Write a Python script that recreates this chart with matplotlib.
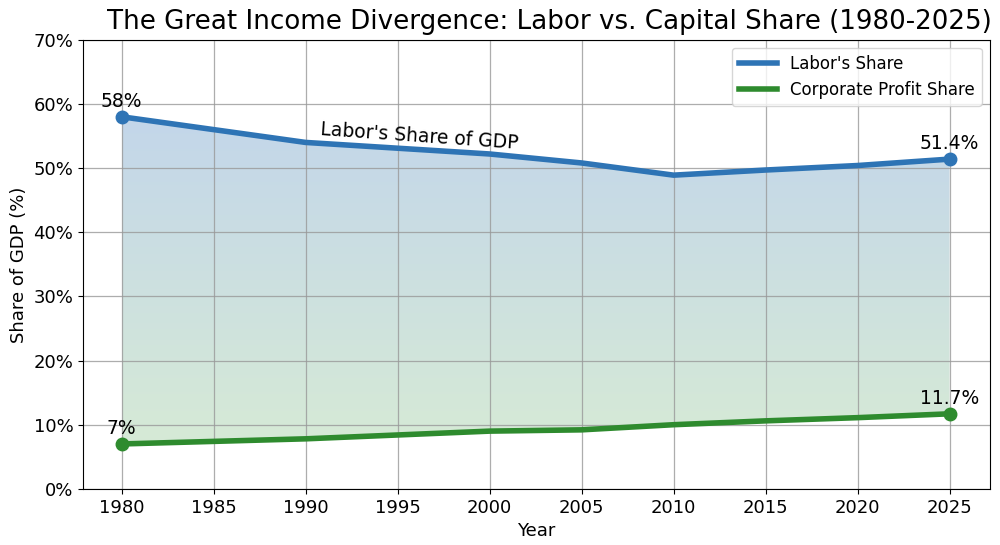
import numpy as np
import matplotlib
matplotlib.use("Agg")
import matplotlib.pyplot as plt
from matplotlib.colors import LinearSegmentedColormap
from matplotlib.ticker import FuncFormatter

# data
years = [1980, 1985, 1990, 1995, 2000, 2005, 2010, 2015, 2020, 2025]
labor = [58.0, 56.0, 54.0, 53.1, 52.2, 50.8, 48.9, 49.7, 50.4, 51.4]
profit = [7.0, 7.4, 7.8, 8.4, 9.0, 9.2, 10.0, 10.6, 11.1, 11.7]
xticks = [1980, 1985, 1990, 1995, 2000, 2005, 2010, 2015, 2020, 2025]

fig = plt.figure(figsize=(10, 5.45), dpi=100)
ax = fig.add_axes([0.083, 0.103, 0.907, 0.824])

# gradient fill between the two series
poly = ax.fill_between(years, profit, labor, facecolor="none", edgecolor="none")
cmap = LinearSegmentedColormap.from_list("bg", ["#d6ead6", "#c3d6ea"])
grad = np.linspace(0, 1, 256).reshape(-1, 1)
img = ax.imshow(grad, cmap=cmap, aspect="auto", origin="lower",
                extent=[years[0], years[-1], min(profit), max(labor)], zorder=0.8)
path = poly.get_paths()[0]
img.set_clip_path(path, transform=ax.transData)

ax.plot(years, labor, color="#2e74b5", lw=4, label="Labor's Share", zorder=3)
ax.plot(years, profit, color="#2e8b2e", lw=4, label="Corporate Profit Share", zorder=3)
ax.plot([years[0], years[-1]], [labor[0], labor[-1]], "o", color="#2e74b5", ms=9, zorder=4)
ax.plot([years[0], years[-1]], [profit[0], profit[-1]], "o", color="#2e8b2e", ms=9, zorder=4)

ax.text(years[0], labor[0] + 0.9, "58%", ha="center", va="bottom", fontsize=13.5)
ax.text(years[-1], labor[-1] + 0.9, "51.4%", ha="center", va="bottom", fontsize=13.5)
ax.text(years[0], profit[0] + 0.9, "7%", ha="center", va="bottom", fontsize=13.5)
ax.text(years[-1], profit[-1] + 0.9, "11.7%", ha="center", va="bottom", fontsize=13.5)
ax.text(1996.2, 55.0, "Labor's Share of GDP", ha="center", va="center",
        fontsize=13.5, rotation=-4)

ax.set_xlim(1977.9, 2027.2)
ax.set_ylim(0, 70)
ax.set_xticks(xticks)
ax.set_yticks(range(0, 71, 10))
ax.yaxis.set_major_formatter(FuncFormatter(lambda v, p: f"{int(v)}%"))
ax.tick_params(labelsize=13)
ax.grid(True, color="#999999", lw=0.9, alpha=0.8)

ax.set_title("The Great Income Divergence: Labor vs. Capital Share (1980-2025)",
             fontsize=18.8, pad=8, x=0.514)
ax.set_xlabel("Year", fontsize=13, labelpad=4)
ax.set_ylabel("Share of GDP (%)", fontsize=13)
ax.legend(loc="upper right", fontsize=12, handlelength=2.3)

fig.savefig("out.png", dpi=100)
